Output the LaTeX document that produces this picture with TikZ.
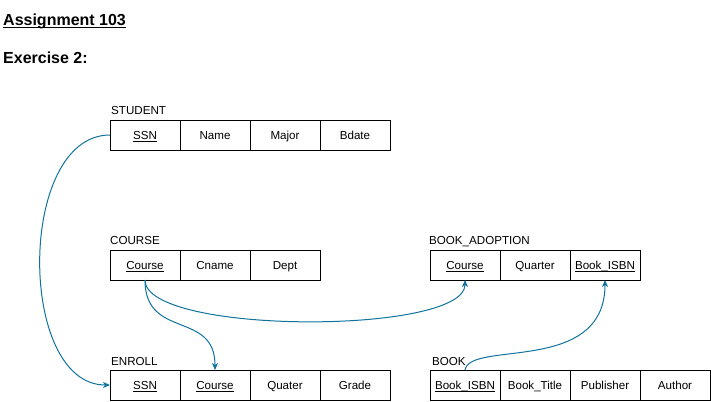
\documentclass[tikz,border=0pt]{standalone}
\usepackage{fontspec}
\setmainfont{Liberation Sans}
\usetikzlibrary{positioning,arrows.meta}
\definecolor{linkblue}{HTML}{10739E}
\newcommand{\ulbase}[1]{\underline{\smash{#1}}}
\tikzset{
  cell/.style={draw, line width=1pt, minimum width=70pt, minimum height=30pt,
               inner sep=0pt, outer sep=0pt, text height=11pt, text depth=2pt,
               font=\fontsize{11.6}{14}\selectfont},
  tname/.style={anchor=base west, inner sep=1pt, font=\fontsize{11.6}{14}\selectfont},
  link/.style={draw=linkblue, line width=1pt, -{Stealth[length=7pt,width=6pt,inset=2pt]}}
}
\begin{document}
\begin{tikzpicture}[x=1pt,y=-1pt]
\useasboundingbox (0,0) rectangle (711,401);
\node[anchor=base west, inner sep=0pt, font=\fontsize{16}{19}\selectfont\bfseries]
     (title) at (3,26) {\ulbase{Assignment 103}};
\node[anchor=base west, inner sep=0pt, font=\fontsize{16}{19}\selectfont\bfseries]
     (exer) at (3,64) {Exercise 2:};
% STUDENT
\node[tname] (stud-lbl) at (110,114) {STUDENT};
\node[cell] (stud-ssn) at (145,135) {\ulbase{SSN}};
\node[cell, right=0pt of stud-ssn] (stud-name) {Name};
\node[cell, right=0pt of stud-name] (stud-major) {Major};
\node[cell, right=0pt of stud-major] (stud-bdate) {Bdate};
% COURSE
\node[tname] (crs-lbl) at (109,244) {COURSE};
\node[cell] (crs-course) at (145,265) {\ulbase{Course}};
\node[cell, right=0pt of crs-course] (crs-cname) {Cname};
\node[cell, right=0pt of crs-cname] (crs-dept) {Dept};
% BOOK_ADOPTION
\node[tname] (ba-lbl) at (428,244) {BOOK\_ADOPTION};
\node[cell] (ba-course) at (465,265) {\ulbase{Course}};
\node[cell, right=0pt of ba-course] (ba-quarter) {Quarter};
\node[cell, right=0pt of ba-quarter] (ba-isbn) {\ulbase{Book\_ISBN}};
% ENROLL
\node[tname] (enr-lbl) at (110,365) {ENROLL};
\node[cell] (enr-ssn) at (145,385) {\ulbase{SSN}};
\node[cell, right=0pt of enr-ssn] (enr-course) {\ulbase{Course}};
\node[cell, right=0pt of enr-course] (enr-quater) {Quater};
\node[cell, right=0pt of enr-quater] (enr-grade) {Grade};
% BOOK
\node[tname] (bk-lbl) at (431,365) {BOOK};
\node[cell] (bk-isbn) at (465,385) {\ulbase{Book\_ISBN}};
\node[cell, right=0pt of bk-isbn] (bk-title) {Book\_Title};
\node[cell, right=0pt of bk-title] (bk-pub) {Publisher};
\node[cell, right=0pt of bk-pub] (bk-author) {Author};
% foreign keys
\draw[link] (stud-ssn.west) .. controls +(-93,0) and +(-93,0) .. (enr-ssn.west);
\draw[link] (crs-course.south) .. controls +(0,60) and +(0,-60) .. (enr-course.north);
\draw[link] (crs-course.south) .. controls +(0,55) and +(0,55) .. (ba-course.south);
\draw[link] (bk-isbn.north) .. controls +(5,-30) and +(0,95) .. (ba-isbn.south);
\end{tikzpicture}
\end{document}
